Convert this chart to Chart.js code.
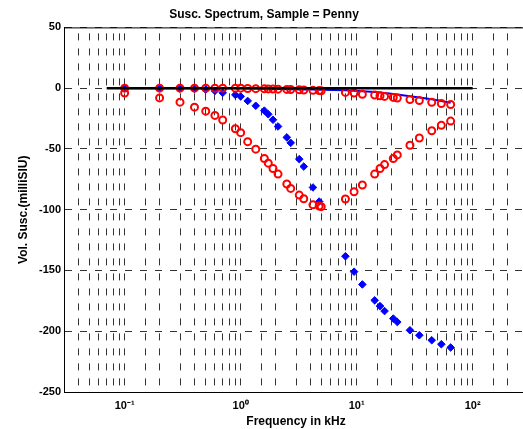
<!DOCTYPE html>
<html>
<head>
<meta charset="utf-8">
<script src="https://cdn.jsdelivr.net/npm/chart.js@4/dist/chart.umd.min.js"></script>
<style>
  html, body { margin: 0; padding: 0; background: #fff; overflow: hidden; }
  canvas { display: block; }
</style>
</head>
<body>
<canvas id="chartSusc" width="540" height="429"></canvas>
<script>
// ── Frecuencias (kHz) ─────────────────────────────────────────
const freqs = [
    0.1, 0.2, 0.3, 0.4, 0.5, 0.6, 0.7, 0.9, 1.0, 1.15,
    1.35, 1.6, 1.73, 1.9, 2.1, 2.5, 2.7, 3.2, 3.5, 4.2,
    4.75, 4.95, 8.0, 9.5, 11.2, 14.3, 15.9, 17.4, 20.7, 22.4,
    28.8, 34.7, 44.4, 53.7, 64.6
];

// ── Serie roja (círculos) que baja hasta ~-97 ─────────────────
const redDip = [
    -4, -8, -11.5, -15.6, -18.9, -22.4, -26.2, -33.4, -36.6, -44,
    -50.2, -57.9, -61.7, -66.1, -70.7, -78.9, -82.5, -88, -91, -96,
    -97, -97.5, -91.2, -85.2, -79.7, -70.7, -66.1, -62.9, -57.9, -54.9,
    -47, -41, -35, -30.6, -27.1
];

// ── Serie roja cerca de cero ──────────────────────────────────
const redTop = [
    0, 0, 0, 0, 0, 0, 0, 0, 0, -0.3,
    -0.4, -0.5, -0.6, -0.7, -0.8, -1.0, -1.1, -1.3, -1.5, -1.8,
    -2, -2.2, -3.5, -4, -5, -5.7, -6.2, -6.8, -7.6, -8.1,
    -9.4, -10.2, -11.6, -12.6, -13.4
];

// ── Serie azul que cae hasta ~-213 ────────────────────────────
const blueDrop = [
    0, 0, -0.3, -0.6, -1.2, -2.2, -3.8, -5.5, -6.8, -10.5,
    -14.5, -18.5, -21.5, -26, -31.5, -40.5, -45, -58.4, -64.5, -81.7,
    -93.3, null, -138.3, -151, -161.5, -174.6, -179.3, -183.4, -189.6, -192.4,
    -199.2, -203.3, -207.4, -210.7, -213.4
];

// ── Serie azul (línea) cerca de cero ──────────────────────────
const blueTop = [
    0, 0, 0, 0, 0, 0, 0, 0, 0, -0.2,
    -0.3, -0.4, -0.5, -0.6, -0.7, -0.8, -0.9, -1, -1, -1.2,
    -1.3, -1.4, -1.8, -2.2, -2.6, -3.2, -3.6, -4, -4.8, -5.2,
    -6.6, -7.6, -9.2, -10.6, -12
];

// ── Línea negra de referencia en cero ─────────────────────────
const zeroLineX = [0.07, 100];
const zeroLineY = [0, 0];

// ── Ejes ──────────────────────────────────────────────────────
const xTickValues = [0.1, 1, 10, 100];
const xTickLabels = ['10\u207B\u00B9', '10\u2070', '10\u00B9', '10\u00B2'];
const yTickValues = [50, 0, -50, -100, -150, -200, -250];

function pares(xs, ys) {
    return xs.map((x, i) => ({ x: x, y: ys[i] }));
}

const FONT = 'Arial, "Liberation Sans", Helvetica, sans-serif';
const GRID_DASH = [7, 8];
const GRID_COLOR = '#333';

// Marco superior (estilo MATLAB)
const marcoPlugin = {
    id: 'marco',
    afterDraw(chart) {
        const a = chart.chartArea, ctx = chart.ctx;
        ctx.save();
        ctx.strokeStyle = '#000';
        ctx.lineWidth = 1;
        ctx.beginPath();
        ctx.moveTo(a.left, a.top + 0.5);
        ctx.lineTo(a.right, a.top + 0.5);
        ctx.stroke();
        ctx.restore();
    }
};

const ctx = document.getElementById('chartSusc').getContext('2d');

new Chart(ctx, {
    type: 'scatter',
    data: {
        datasets: [
            {
                label: 'cero',
                data: pares(zeroLineX, zeroLineY),
                showLine: true,
                borderColor: '#000',
                borderWidth: 2.5,
                pointRadius: 0
            },
            {
                label: 'rojo bajo',
                data: pares(freqs, redDip),
                showLine: false,
                pointStyle: 'circle',
                pointRadius: 3.5,
                borderWidth: 2,
                borderColor: '#ff0000',
                backgroundColor: 'rgba(0,0,0,0)'
            },
            {
                label: 'rojo alto',
                data: pares(freqs, redTop),
                showLine: false,
                pointStyle: 'circle',
                pointRadius: 3.5,
                borderWidth: 2,
                borderColor: '#ff0000',
                backgroundColor: 'rgba(0,0,0,0)'
            },
            {
                label: 'azul alto',
                data: pares(freqs, blueTop),
                showLine: true,
                borderColor: '#0000ff',
                borderWidth: 2,
                pointRadius: 0
            },
            {
                label: 'azul bajo',
                data: pares(freqs, blueDrop),
                showLine: false,
                pointStyle: 'rectRot',
                pointRadius: 3.8,
                borderWidth: 1,
                borderColor: '#0000ff',
                backgroundColor: '#0000ff'
            }
        ]
    },
    options: {
        responsive: false,
        animation: false,
        layout: { padding: { left: 0, right: 12, top: 0, bottom: 0 } },
        plugins: {
            legend: { display: false },
            tooltip: { enabled: false },
            title: {
                display: true,
                text: 'Susc. Spectrum, Sample = Penny',
                color: '#000',
                font: { family: FONT, size: 12, weight: 'bold' },
                padding: { top: 7, bottom: 6 }
            }
        },
        scales: {
            x: {
                type: 'logarithmic',
                min: 0.03,
                max: 300,
                afterFit: s => { s.height = 37; },
                ticks: {
                    autoSkip: false,
                    maxRotation: 0,
                    padding: 7,
                    color: '#000',
                    font: { family: FONT, size: 11, weight: 'bold' },
                    callback: function(val) {
                        const i = xTickValues.findIndex(v => Math.abs(v - val) < v * 1e-6);
                        return i >= 0 ? xTickLabels[i] : '';
                    }
                },
                grid: { color: GRID_COLOR, lineWidth: 1, drawTicks: false },
                border: { display: true, color: '#000', width: 1, dash: GRID_DASH, dashOffset: 9 },
                title: {
                    display: true,
                    text: 'Frequency in kHz',
                    color: '#000',
                    font: { family: FONT, size: 12, weight: 'bold' },
                    padding: { top: 0, bottom: 0 }
                }
            },
            y: {
                min: -250,
                max: 50,
                afterFit: s => { s.width = 64; },
                afterBuildTicks: s => { s.ticks = yTickValues.map(v => ({ value: v })); },
                ticks: {
                    padding: 3,
                    color: '#000',
                    font: { family: FONT, size: 11, weight: 'bold' }
                },
                grid: { color: GRID_COLOR, lineWidth: 1, drawTicks: false },
                border: { display: true, color: '#000', width: 1, dash: GRID_DASH, dashOffset: 0 },
                title: {
                    display: true,
                    text: 'Vol. Susc.(milliSIU)',
                    color: '#000',
                    font: { family: FONT, size: 12, weight: 'bold' },
                    padding: { top: 16, bottom: 0 }
                }
            }
        }
    },
    plugins: [marcoPlugin]
});
</script>
</body>
</html>
